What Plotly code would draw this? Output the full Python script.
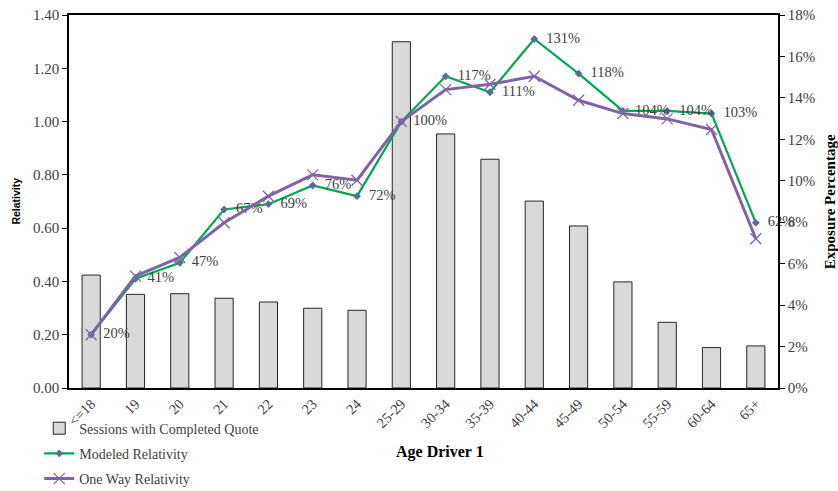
import plotly.graph_objects as go

# Age bands for driver 1
age_bands = ["<=18", "19", "20", "21", "22", "23", "24", "25-29", "30-34",
             "35-39", "40-44", "45-49", "50-54", "55-59", "60-64", "65+"]

# Share of sessions with a completed quote (exposure, fraction)
exposure_pct = [0.0545, 0.0452, 0.0455, 0.0433, 0.0415, 0.0385, 0.0375, 0.1671,
                0.1226, 0.1104, 0.0902, 0.0782, 0.0512, 0.0317, 0.0195, 0.0203]

# Modeled relativity by age band
modeled_rel = [0.20, 0.41, 0.47, 0.67, 0.69, 0.76, 0.72, 1.00,
               1.17, 1.11, 1.31, 1.18, 1.04, 1.04, 1.03, 0.62]

# One-way relativity by age band
one_way_rel = [0.20, 0.42, 0.49, 0.62, 0.72, 0.80, 0.78, 1.00,
               1.12, 1.14, 1.17, 1.08, 1.03, 1.01, 0.97, 0.56]

# Axis ticks
rel_ticks = [0.0, 0.2, 0.4, 0.6, 0.8, 1.0, 1.2, 1.4]
exp_ticks = [0.0, 0.02, 0.04, 0.06, 0.08, 0.10, 0.12, 0.14, 0.16, 0.18]

SERIF = "Liberation Serif"
TXT = "#404040"

fig = go.Figure()

fig.add_trace(go.Bar(
    x=age_bands, y=exposure_pct, yaxis="y",
    name="Sessions with Completed Quote",
    marker=dict(color="#D9D9D9", line=dict(color="#262626", width=1)),
    width=0.41, legendgroup="a",
))

fig.add_trace(go.Scatter(
    x=age_bands, y=modeled_rel, yaxis="y2",
    name="Modeled Relativity",
    mode="lines+markers+text",
    line=dict(color="#00A651", width=2.2),
    marker=dict(symbol="diamond", size=6, color="#5A6E94"),
    texttemplate="  %{y:.0%}", textposition="middle right",
    textfont=dict(family=SERIF, size=14.5, color=TXT),
    cliponaxis=False, legendgroup="b",
))

fig.add_trace(go.Scatter(
    x=age_bands, y=one_way_rel, yaxis="y2",
    name="One Way Relativity",
    mode="lines+markers",
    line=dict(color="#8064A2", width=3),
    marker=dict(symbol="x-thin", size=11, color="#8064A2",
                line=dict(color="#8064A2", width=1.3)),
    cliponaxis=False, legendgroup="c",
))

fig.update_layout(
    width=838, height=491,
    margin=dict(l=69, r=60, t=15, b=103, autoexpand=False),
    paper_bgcolor="white", plot_bgcolor="white",
    font=dict(family=SERIF, size=14, color=TXT),
    bargap=0.59,
    xaxis=dict(
        type="category", showline=True, linecolor="black", linewidth=1.5,
        mirror=True, showgrid=False, tickangle=-45, automargin=False,
        tickfont=dict(family=SERIF, size=14.5, color=TXT),
        ticks="", range=[-0.5, 15.5],
    ),
    yaxis=dict(
        side="right", range=[0, 0.18], tickvals=exp_ticks, tickformat=".0%",
        showline=True, linecolor="black", linewidth=1.5, showgrid=False,
        ticks="outside", ticklen=5, tickcolor="black", zeroline=False,
        automargin=False, tickfont=dict(family=SERIF, size=15, color=TXT),
    ),
    yaxis2=dict(
        side="left", overlaying="y", range=[0, 1.4], tickvals=rel_ticks,
        tickformat=".2f", showline=True, linecolor="black", linewidth=1.5,
        showgrid=False, ticks="outside", ticklen=5, tickcolor="black",
        zeroline=False, automargin=False,
        tickfont=dict(family=SERIF, size=15, color=TXT),
    ),
    legend=dict(
        x=-0.042, y=-0.066, xanchor="left", yanchor="top",
        orientation="v", traceorder="grouped", tracegroupgap=4,
        font=dict(family=SERIF, size=14, color=TXT),
        bgcolor="rgba(0,0,0,0)",
    ),
    showlegend=True,
)

fig.add_annotation(
    text="<b>Age Driver 1</b>", xref="paper", yref="paper",
    x=0.523, y=-0.172, xanchor="center", yanchor="middle", showarrow=False,
    font=dict(family=SERIF, size=16, color="black"),
)
fig.add_annotation(
    text="<b>Relativity</b>", xref="paper", yref="paper",
    x=-0.076, y=0.5, xanchor="center", yanchor="middle", showarrow=False,
    textangle=-90, font=dict(family="Liberation Sans", size=10.5, color="black"),
)
fig.add_annotation(
    text="<b>Exposure Percentage</b>", xref="paper", yref="paper",
    x=1.073, y=0.5, xanchor="center", yanchor="middle", showarrow=False,
    textangle=-90, font=dict(family=SERIF, size=15, color="black"),
)

fig.write_html("out.html")
